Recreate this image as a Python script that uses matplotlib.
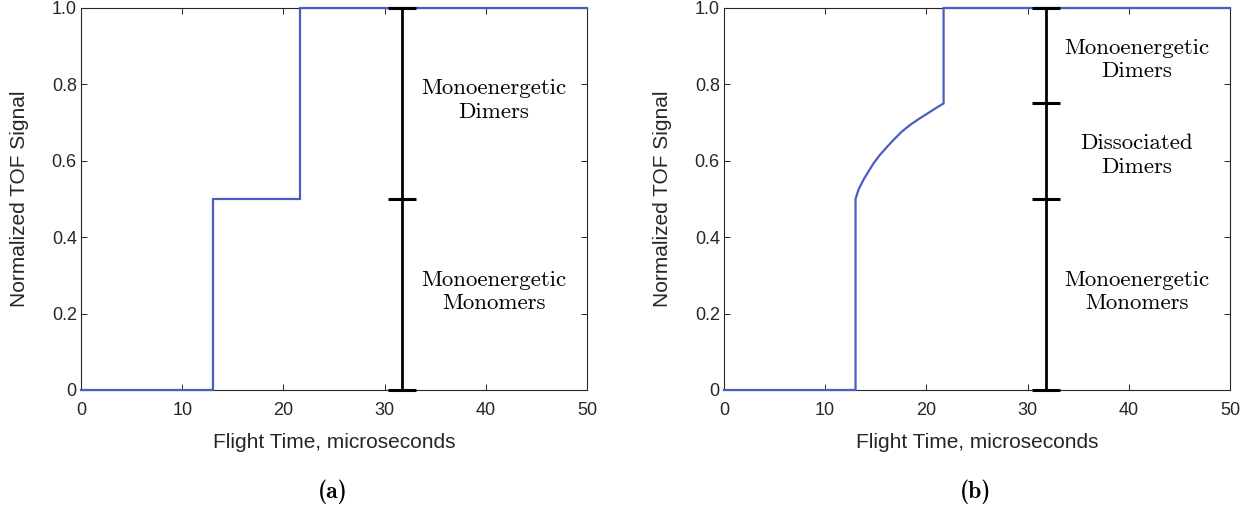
import matplotlib
matplotlib.use("Agg")
import matplotlib.pyplot as plt

# Panel (a): two-step TOF signal (monoenergetic monomers + dimers)
t_a = [0, 13.0, 13.0, 21.6, 21.6, 50]
s_a = [0, 0, 0.5, 0.5, 1.0, 1.0]
bar_x_a = 31.7
caps_a = [0, 0.5, 1.0]
labels_a = [(40.8, 0.758, "Monoenergetic\nDimers"),
            (40.8, 0.257, "Monoenergetic\nMonomers")]

# Panel (b): dissociated dimers add a rising section between the steps
t_b = [0, 13.0, 13.0, 13.3, 13.8, 14.3, 14.8, 15.4, 16.1, 16.8, 17.6, 18.5,
       19.4, 20.3, 21.0, 21.7, 21.7, 50]
s_b = [0, 0, 0.50, 0.525, 0.551, 0.573, 0.594, 0.615, 0.636, 0.656, 0.677,
       0.696, 0.712, 0.727, 0.739, 0.75, 1.0, 1.0]
bar_x_b = 31.8
caps_b = [0, 0.5, 0.75, 1.0]
labels_b = [(40.8, 0.864, "Monoenergetic\nDimers"),
            (40.8, 0.615, "Dissociated\nDimers"),
            (40.8, 0.257, "Monoenergetic\nMonomers")]

x_ticks = [0, 10, 20, 30, 40, 50]
y_ticks = [0, 0.2, 0.4, 0.6, 0.8, 1.0]
y_ticklabels = ["0", "0.2", "0.4", "0.6", "0.8", "1.0"]

line_color = "#4a5ec2"
axis_color = "#262626"
sans = "Liberation Sans"

fig = plt.figure(figsize=(12.56, 5.12), dpi=100)
ax_a = fig.add_axes([0.0645, 0.2383, 0.4029, 0.7461])
ax_b = fig.add_axes([0.5764, 0.2383, 0.4029, 0.7461])


def draw_panel(ax, t, s, bar_x, caps, labels, tag, tag_x):
    ax.plot(t, s, color=line_color, lw=1.6, solid_joinstyle="miter",
            clip_on=False, zorder=4)
    ax.plot([bar_x, bar_x], [caps[0], caps[-1]], color="black", lw=2.0,
            solid_capstyle="butt", clip_on=False, zorder=5)
    ax.plot([bar_x] * len(caps), caps, ls="none", marker="_", ms=20,
            mew=2.2, color="black", clip_on=False, zorder=5)
    for x, y, txt in labels:
        ax.text(x, y, txt, ha="center", va="center", fontsize=16.5,
                family="cmr10", linespacing=1.25)
    ax.set_xlim(0, 50)
    ax.set_ylim(0, 1)
    ax.set_xticks(x_ticks)
    ax.set_xticklabels([str(v) for v in x_ticks])
    ax.set_yticks(y_ticks)
    ax.set_yticklabels(y_ticklabels)
    ax.tick_params(direction="in", top=True, right=True, length=4.5,
                   width=0.7, colors=axis_color, labelsize=13)
    ax.tick_params(axis="x", pad=9)
    ax.tick_params(axis="y", pad=3)
    for lab in ax.get_xticklabels() + ax.get_yticklabels():
        lab.set_family(sans)
    for sp in ax.spines.values():
        sp.set_color(axis_color)
        sp.set_linewidth(0.8)
    ax.set_xlabel("Flight Time, microseconds", family=sans, fontsize=15,
                  color=axis_color, labelpad=10)
    ax.set_ylabel("Normalized TOF Signal", family=sans, fontsize=15,
                  color=axis_color, labelpad=16)
    fig.text(tag_x, 1 - 492 / 512, tag, ha="center", va="center",
             family="cmb10", fontsize=17)


draw_panel(ax_a, t_a, s_a, bar_x_a, caps_a, labels_a, "(a)", 333 / 1256)
draw_panel(ax_b, t_b, s_b, bar_x_b, caps_b, labels_b, "(b)", 976 / 1256)

fig.savefig("out.png", dpi=100)
